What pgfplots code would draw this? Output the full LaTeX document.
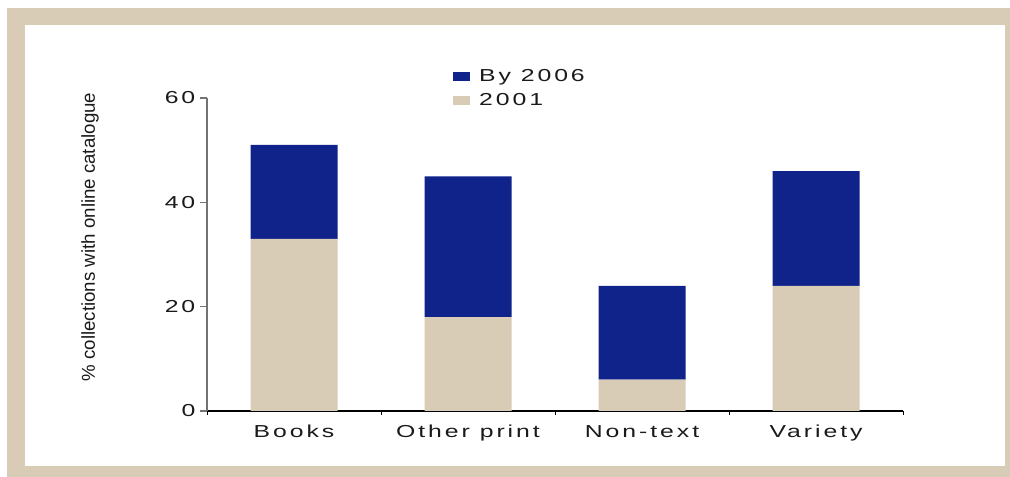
\documentclass[border=0pt]{standalone}
\usepackage{pgfplots}
\pgfplotsset{compat=1.18}
\usepackage{fontspec}
\setmainfont{Liberation Sans}[FakeStretch=1.43,LetterSpace=17]
\newfontfamily\labfont{Liberation Sans}
\definecolor{navy}{HTML}{10238A}
\definecolor{sand}{HTML}{D8CCB6}
\definecolor{ink}{HTML}{1A1A1A}

\begin{document}
\begin{tikzpicture}
% page 1010x477 px, 1px = 0.75pt
\path[use as bounding box] (0pt,0pt) rectangle (757.5pt,357.75pt);
\fill[white] (0pt,0pt) rectangle (757.5pt,357.75pt);
\fill[sand] (5.25pt,0pt) rectangle (757.5pt,351.75pt);
\fill[white] (18.75pt,8.25pt) rectangle (753.75pt,339pt);
\begin{axis}[
  at={(155.25pt,49.5pt)}, anchor=south west,
  scale only axis, width=522pt, height=234.75pt,
  ybar stacked, bar width=65.25pt,
  xmin=0.5, xmax=4.5, ymin=0, ymax=60,
  xtick={1,2,3,4},
  xticklabels={Books,Other print,Non-text,Variety},
  minor xtick={0.5,1.5,2.5,3.5,4.5},
  ytick={0,20,40,60},
  axis lines=left, axis line style={-},
  x axis line style={black, line width=0.8pt},
  y axis line style={black!55, line width=0.8pt},
  tick align=outside,
  major tick length=5.25pt, minor tick length=3pt,
  major x tick style={draw=none},
  minor x tick style={black, line width=0.6pt},
  y tick style={black!55, line width=0.8pt},
  /pgf/number format/assume math mode=true,
  tick label style={font=\fontsize{13}{15.5}\selectfont, text=ink},
  xticklabel style={yshift=-2pt},
  ylabel={\labfont\fontsize{14}{16}\selectfont\% collections with online catalogue},
  ylabel style={at={(axis description cs:-0.168,0.556)}, anchor=center, text=ink},
  reverse legend,
  legend cell align=left,
  legend style={draw=none, fill=none, at={(axis description cs:0.347,1.11)},
    anchor=north west, font=\fontsize{13}{15.5}\selectfont, text=ink,
    row sep=3.75pt, column sep=5pt},
  legend image code/.code={\fill[#1] (0pt,-3.5pt) rectangle (12.75pt,3.5pt);},
]
\addplot[fill=sand, draw=none] coordinates {(1,33) (2,18) (3,6) (4,24)};
\addplot[fill=navy, draw=none] coordinates {(1,18) (2,27) (3,18) (4,22)};
\legend{2001,By 2006}
\end{axis}
\end{tikzpicture}
\end{document}
